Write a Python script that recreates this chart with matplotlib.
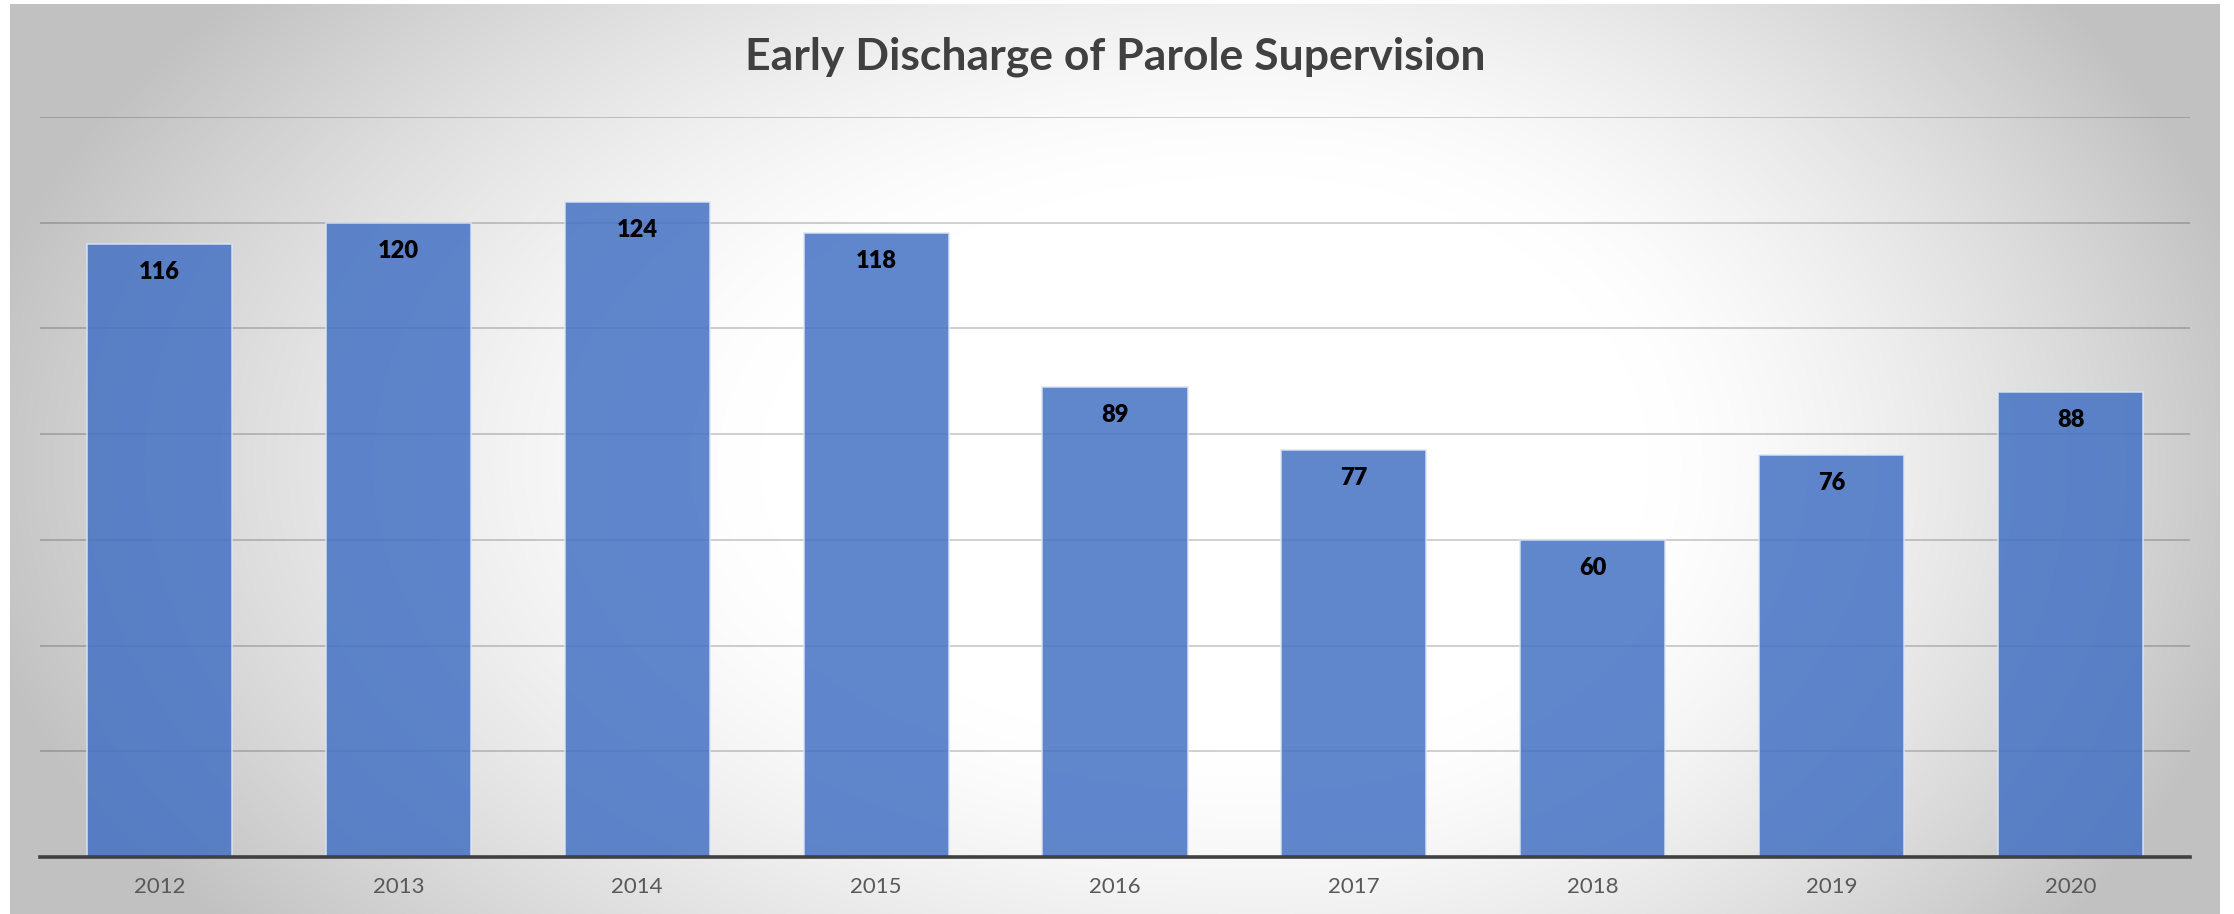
import matplotlib.pyplot as plt
import numpy as np

years = ['2012', '2013', '2014', '2015', '2016', '2017', '2018', '2019', '2020']
discharges = [116, 120, 124, 118, 89, 77, 60, 76, 88]
title = 'Early Discharge of Parole Supervision'

W, H = 2234, 914
fig = plt.figure(figsize=(W / 100, H / 100), dpi=100)

# chart area background: soft radial gradient, white in the middle
bg = fig.add_axes([10 / W, 0, 2210 / W, 910 / H], zorder=0)
gx, gy = np.meshgrid(np.arange(2210), np.arange(910))
cx, cy = 1250, 460
sx = np.where(gx < cx, 1250.0, 970.0)
d = np.sqrt(((gx - cx) / sx) ** 2 + ((gy - cy) / 720.0) ** 2)
shade = 255 - 62 * np.clip((d - 0.4) / 0.65, 0, 1) ** 1.4
img = np.dstack([shade, shade, shade]).astype(np.uint8)
bg.imshow(img, aspect='auto', interpolation='bilinear')
bg.set_axis_off()

ax = fig.add_axes([40 / W, 57 / H, 2150 / W, 740 / H], zorder=1)
ax.patch.set_visible(False)
x = np.arange(len(years))
ax.bar(x, discharges, width=0.607, color='#4472C4', alpha=0.85,
       edgecolor='#DCE6F5', linewidth=1.2, zorder=2)

ax.set_xlim(-0.5, len(years) - 0.5)
ax.set_ylim(0, 140)
ax.set_yticks(np.arange(20, 141, 20))
ax.yaxis.grid(True, color='black', alpha=0.2, linewidth=1.3, zorder=1)
ax.set_axisbelow(True)
ax.tick_params(axis='y', left=False, labelleft=False)
ax.tick_params(axis='x', bottom=False, pad=11)
ax.set_xticks(x)
ax.set_xticklabels(years, fontsize=16, color='#595959', family='Lato')
for s in ('top', 'right', 'left'):
    ax.spines[s].set_visible(False)
ax.spines['bottom'].set_color('#404040')
ax.spines['bottom'].set_linewidth(2.6)
ax.spines['bottom'].set_zorder(3)

for xi, v in zip(x, discharges):
    ax.annotate(str(v), (xi, v), xytext=(0, -28), textcoords='offset pixels',
                ha='center', va='center', fontsize=17, fontweight='heavy',
                color='black', family='Lato', zorder=4)

fig.text(1115 / W, 1 - 57 / H, title, ha='center', va='center',
         fontsize=32, fontweight='bold', color='#404040', family='Lato')

fig.savefig('out.png', dpi=100)
